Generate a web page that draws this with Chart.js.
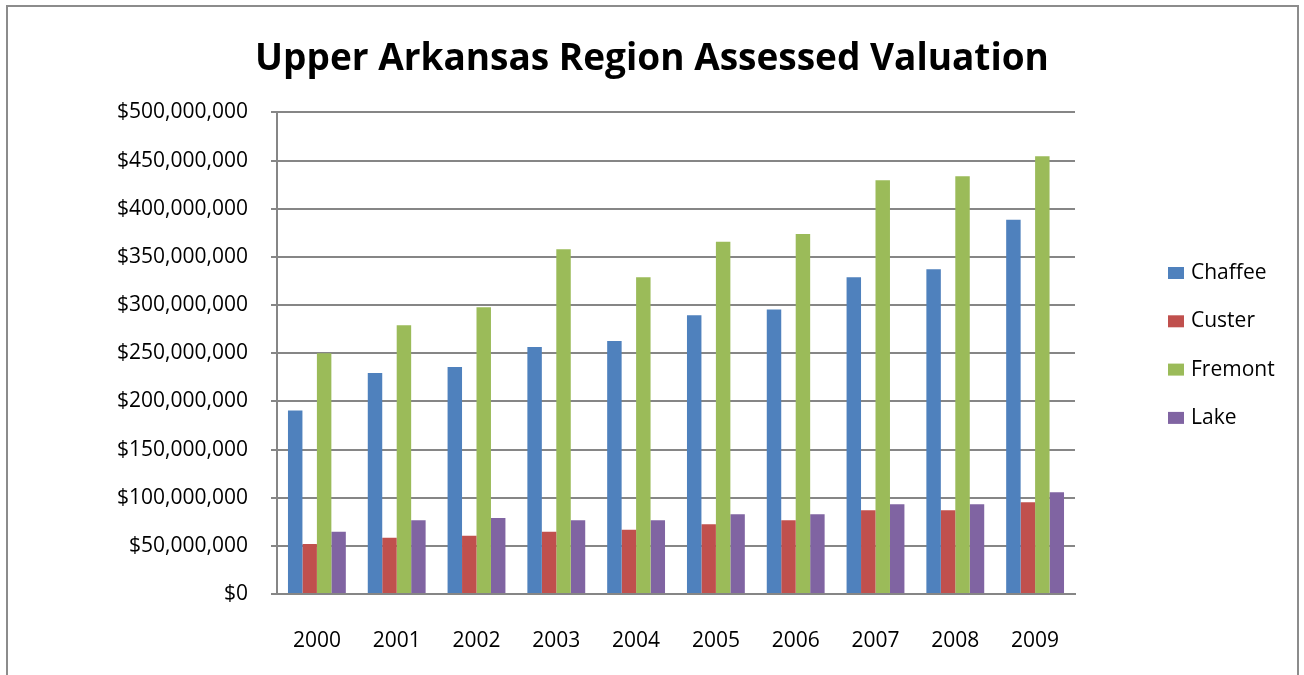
<!DOCTYPE html>
<html>
<head>
<meta charset="utf-8">
<title>Upper Arkansas Region Assessed Valuation</title>
<script src="https://cdn.jsdelivr.net/npm/chart.js@4"></script>
<style>
  html, body { margin: 0; padding: 0; background: #fff; }
  #wrap { position: relative; width: 1304px; height: 675px; overflow: hidden; }
  #frame { position: absolute; left: 6px; top: 5px; width: 1293px; height: 700px; border: 2px solid #8c8c8c; box-sizing: border-box; }
  #valuation { position: absolute; left: 0; top: 0; }
</style>
</head>
<body>
<div id="wrap">
  <div id="frame"></div>
  <canvas id="valuation" width="1304" height="675"></canvas>
</div>
<script>
// assessed valuation by county, in dollars
const years = ['2000', '2001', '2002', '2003', '2004', '2005', '2006', '2007', '2008', '2009'];
const chaffee = [190500000, 229500000, 235700000, 256400000, 262600000, 289500000, 295400000, 328900000, 337200000, 388500000];
const custer = [52000000, 58300000, 60400000, 64500000, 66600000, 72500000, 76600000, 87000000, 87000000, 95200000];
const fremont = [250000000, 279000000, 297800000, 357900000, 328900000, 365700000, 373700000, 429600000, 433700000, 454400000];
const lake = [64500000, 76600000, 79000000, 76600000, 76600000, 82800000, 82800000, 93200000, 93200000, 105600000];

const countyNames = ['Chaffee', 'Custer', 'Fremont', 'Lake'];
const countyColors = ['#4f81bd', '#c0504d', '#9bbb59', '#8064a2'];
const yTicks = { min: 0, max: 500000000, step: 50000000 };

const FONT = "'Open Sans', 'Liberation Sans', sans-serif";
const gridGray = '#868686';

function money(v) {
    return '$' + Number(v).toLocaleString('en-US');
}

// legend drawn in the space kept free by the right-hand spacer axis
const sideLegend = {
    id: 'sideLegend',
    afterDraw(chart) {
        const ctx = chart.ctx;
        ctx.save();
        ctx.font = '21px ' + FONT;
        ctx.textBaseline = 'middle';
        chart.data.datasets.forEach((ds, i) => {
            const y = 273 + i * 48.3;
            ctx.fillStyle = ds.backgroundColor;
            ctx.fillRect(1168, y - 6, 16, 12);
            ctx.fillStyle = '#000';
            ctx.fillText(ds.label, 1191, y);
        });
        ctx.restore();
    }
};

const seriesValues = [chaffee, custer, fremont, lake];

const ctx = document.getElementById('valuation').getContext('2d');
const valuationChart = new Chart(ctx, {
    type: 'bar',
    data: {
        labels: years,
        datasets: countyNames.map((name, i) => ({
            label: name,
            data: seriesValues[i],
            backgroundColor: countyColors[i],
            borderWidth: 0,
            categoryPercentage: 0.725,
            barPercentage: 1.0
        }))
    },
    options: {
        responsive: false,
        animation: false,
        layout: { padding: 0 },
        plugins: {
            legend: { display: false },
            tooltip: { enabled: false },
            title: {
                display: true,
                text: 'Upper Arkansas Region Assessed Valuation',
                color: '#000',
                font: { family: FONT, size: 37, weight: 'bold' },
                padding: { top: 37, bottom: 31 }
            }
        },
        scales: {
            x: {
                afterFit(scale) { scale.height = 81; },
                grid: { display: false, drawTicks: false },
                border: { color: gridGray, width: 2 },
                ticks: { color: '#000', font: { family: FONT, size: 21 }, padding: 34 }
            },
            y: {
                min: yTicks.min,
                max: yTicks.max,
                afterFit(scale) { scale.width = 277; },
                grid: { color: gridGray, lineWidth: 2, tickLength: 6 },
                border: { color: gridGray, width: 2 },
                ticks: {
                    stepSize: yTicks.step,
                    color: '#000',
                    font: { family: FONT, size: 21 },
                    padding: 23,
                    callback: v => money(v)
                }
            },
            // empty axis on the right that reserves room for the legend
            side: {
                position: 'right',
                display: true,
                afterFit(scale) { scale.width = 229; },
                grid: { display: false, drawTicks: false },
                border: { display: false },
                ticks: { display: false }
            }
        }
    },
    plugins: [sideLegend]
});
</script>
</body>
</html>
